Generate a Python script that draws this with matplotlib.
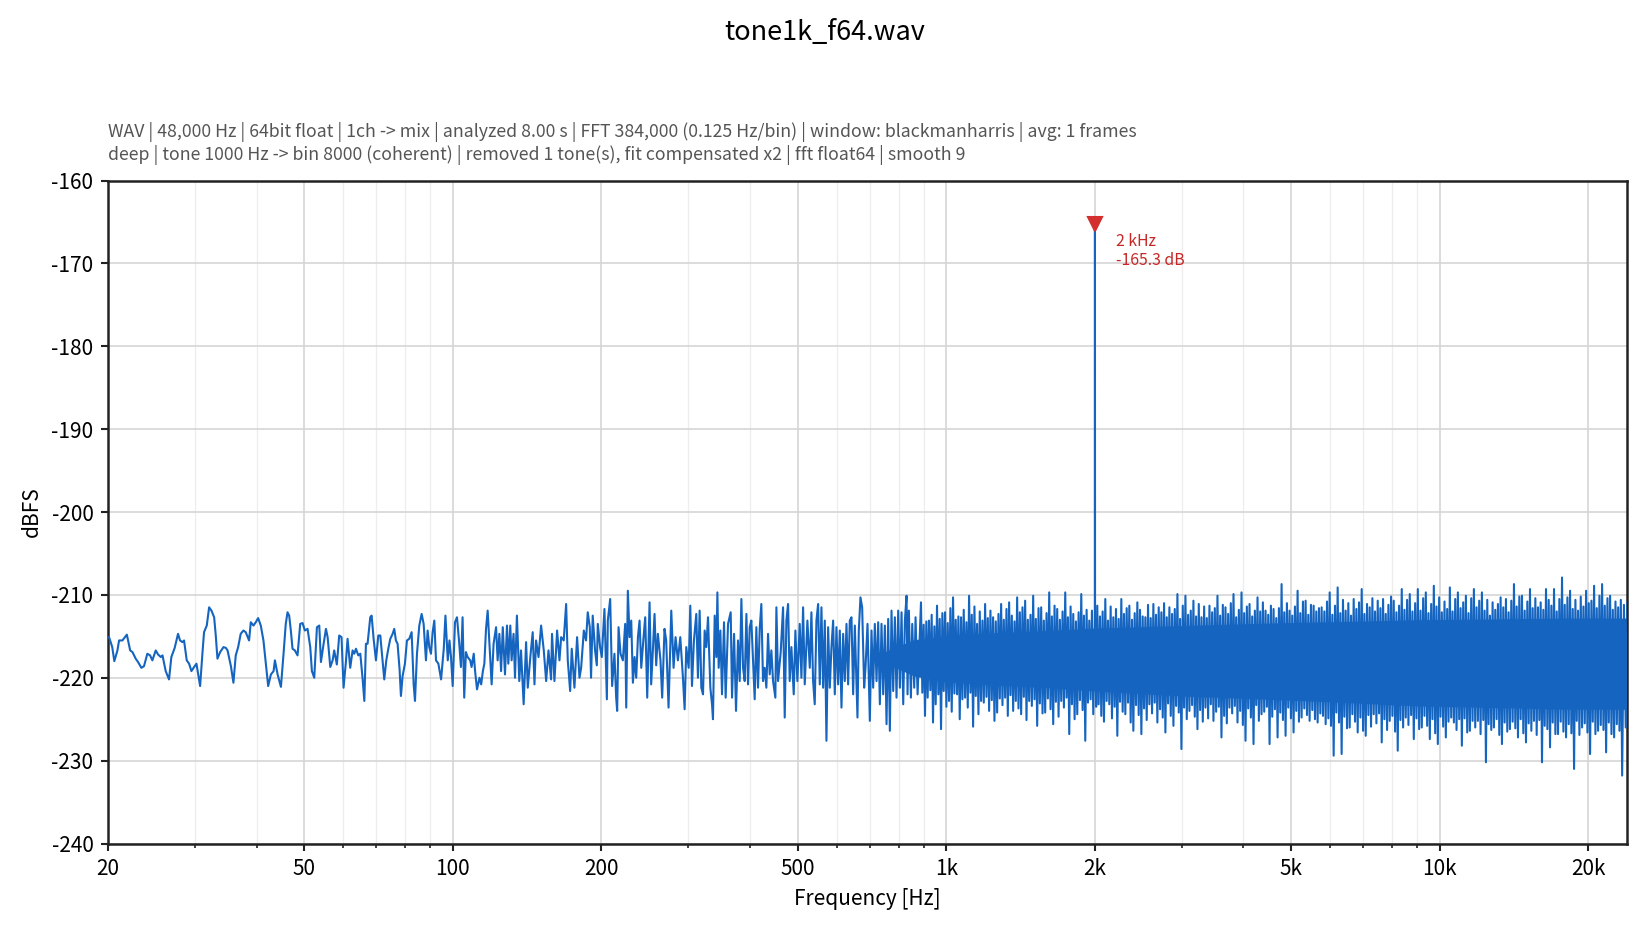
import numpy as np
import matplotlib
matplotlib.use("Agg")
import matplotlib.pyplot as plt
from matplotlib.ticker import FixedLocator, FixedFormatter, LogLocator, NullFormatter

plt.rcParams['font.family'] = ['Noto Sans CJK JP', 'DejaVu Sans']
plt.rcParams['axes.unicode_minus'] = False

TITLE = "tone1k_f64.wav"
INFO_1 = ("WAV | 48,000 Hz | 64bit float | 1ch -> mix | analyzed 8.00 s | FFT 384,000 (0.125 Hz/bin) "
          "| window: blackmanharris | avg: 1 frames")
INFO_2 = ("deep | tone 1000 Hz -> bin 8000 (coherent) | removed 1 tone(s), fit compensated x2 "
          "| fft float64 | smooth 9")

# ---- spectrum, (Hz, dBFS) ----
# 20..137 Hz, individual wiggles
low_band = [
    (20.1, -215.1), (20.4, -216.3), (20.6, -218.0), (20.9, -216.7), (21.06, -215.5), (21.39, -215.5),
    (21.84, -214.8), (22.18, -216.7), (22.42, -216.9), (22.76, -217.7), (23.01, -218.1), (23.37, -218.8),
    (23.66, -218.6), (24.03, -217.1), (24.34, -217.3), (24.60, -217.9), (24.99, -216.7), (25.27, -217.2),
    (25.59, -217.5), (25.79, -217.3), (26.18, -219.2), (26.59, -220.2), (26.88, -217.5), (27.30, -216.4),
    (27.73, -214.7), (27.99, -215.5), (28.30, -215.7), (28.52, -215.5), (28.88, -217.9), (29.20, -218.3),
    (29.52, -219.2), (29.89, -218.7), (30.22, -218.3), (30.74, -221.0), (31.07, -217.1), (31.31, -214.5),
    (31.71, -213.7), (32.06, -211.5), (32.41, -211.9), (32.82, -212.7), (33.07, -214.9), (33.33, -217.7),
    (33.75, -216.9), (34.29, -216.3), (34.67, -216.4), (34.94, -216.7), (35.49, -218.6), (35.91, -220.6),
    (36.30, -217.3), (36.71, -216.3), (37.15, -214.7), (37.62, -214.3), (38.03, -214.5), (38.63, -215.5),
    (38.94, -213.3), (39.43, -213.7), (39.86, -213.3), (40.30, -212.8), (40.80, -213.7), (41.31, -215.5),
    (41.77, -218.3), (42.23, -221.0), (42.77, -219.6), (43.31, -219.2), (43.58, -217.9), (44.13, -219.6),
    (44.82, -221.1), (45.37, -217.1), (45.84, -213.5), (46.22, -212.1), (46.58, -212.5), (46.94, -214.3),
    (47.31, -216.5), (47.83, -216.7), (48.43, -217.3), (49.04, -213.5), (49.58, -213.4), (50.12, -214.3),
    (50.75, -214.1), (51.39, -216.3), (51.79, -219.2), (52.36, -220.0), (53.02, -213.9), (53.60, -213.7),
    (54.02, -218.1), (54.70, -215.9), (55.30, -214.1), (55.73, -215.1), (56.43, -218.7), (57.05, -217.9),
    (57.47, -216.7), (58.18, -218.4), (58.83, -214.9), (59.47, -215.1), (60.03, -221.2), (60.69, -218.1),
    (61.17, -215.3), (61.93, -218.8), (62.62, -216.7), (63.11, -217.1), (63.61, -216.5), (64.30, -217.3),
    (64.91, -217.1), (65.63, -220.2), (66.14, -222.8), (66.64, -215.9), (67.15, -215.9), (68.00, -212.7),
    (68.43, -212.5), (69.07, -215.3), (69.83, -217.9), (70.60, -214.9), (71.26, -214.9), (72.03, -217.9),
    (72.59, -220.2), (73.28, -217.9), (73.97, -216.5), (74.66, -215.3), (75.48, -214.7), (76.05, -214.1),
    (76.65, -215.5), (77.24, -215.9), (77.97, -219.0), (78.46, -222.2), (79.07, -219.8), (79.94, -218.3),
    (80.69, -215.5), (81.58, -215.3), (82.48, -214.5), (83.26, -220.8), (83.78, -222.8), (84.56, -217.1),
    (85.48, -213.7), (86.42, -212.3), (87.23, -213.5), (88.18, -217.9), (88.87, -214.3), (89.56, -216.3),
    (90.26, -217.1), (90.97, -214.5), (91.69, -213.1), (92.41, -217.9), (93.44, -218.3), (94.63, -220.2),
    (95.82, -216.5), (96.57, -212.5), (97.63, -217.9), (98.40, -215.5), (99.11, -217.5), (99.89, -221.0),
    (100.97, -213.3), (101.92, -212.7), (103.01, -215.9), (103.80, -218.7), (104.61, -212.7), (105.42, -222.4),
    (106.24, -216.9), (107.1, -217.5), (108.4, -217.9), (109.1, -218.7), (110.2, -217.1), (110.9, -219.2),
    (111.9, -221.4), (113.2, -220.0), (114.1, -220.8), (115.0, -219.2), (115.8, -218.3), (116.7, -214.1),
    (117.6, -211.9), (118.5, -215.5), (119.8, -220.8), (120.9, -215.9), (122.3, -213.9), (123.2, -217.9),
    (124.2, -214.7), (125.2, -219.2), (126.2, -213.9), (127.5, -219.6), (128.7, -213.7), (129.5, -218.3),
    (130.7, -213.7), (131.5, -217.9), (132.7, -214.7), (133.6, -220.0), (134.8, -212.5), (136.3, -220.4),
]

# 137..880 Hz, getting denser
mid_band = [
    (137.4, -216.7), (139.1, -223.2), (140.7, -215.7), (141.8, -221.2), (143.5, -217.5), (145.1, -214.5),
    (146.3, -220.8), (147.4, -215.5), (149.1, -217.5), (150.9, -213.7), (152.8, -216.7), (154.5, -220.4),
    (156.2, -216.7), (158.1, -220.2), (158.8, -214.7), (160.6, -220.4), (162.6, -214.3), (164.4, -217.9),
    (165.7, -215.1), (167.7, -215.5), (169.6, -211.1), (170.9, -217.9), (172.8, -221.6), (174.1, -216.5),
    (176.3, -221.2), (178.5, -215.1), (180.5, -220.0), (181.9, -218.8), (184.2, -214.3), (186.1, -215.5),
    (187.6, -212.1), (189.4, -213.9), (190.5, -220.0), (192.0, -212.5), (194.1, -216.7), (195.7, -218.5),
    (196.6, -213.5), (198.7, -216.3), (200.3, -217.5), (202.8, -211.7), (205.1, -222.6), (206.0, -213.1),
    (208.3, -210.5), (210.2, -221.0), (212.5, -217.1), (214.2, -222.4), (215.2, -224.0), (216.6, -213.9),
    (218.6, -217.1), (221.0, -217.9), (223.4, -213.5), (224.5, -223.6), (226.2, -209.5), (228.0, -215.1),
    (229.8, -213.1), (231.6, -220.6), (233.4, -217.5), (235.2, -220.0), (237.1, -215.1), (238.9, -213.1),
    (240.8, -218.8), (243.4, -215.1), (245.3, -212.7), (247.6, -222.4), (250.3, -210.9), (252.2, -220.8),
    (254.2, -216.7), (256.2, -212.3), (258.2, -218.5), (260.2, -214.7), (263.4, -217.9), (265.5, -222.4),
    (268.4, -214.1), (270.5, -215.5), (273.5, -223.6), (277.0, -211.9), (280.0, -218.8), (282.6, -215.1),
    (285.7, -217.9), (288.9, -215.1), (292.5, -220.0), (294.8, -223.8), (297.1, -216.3), (300.4, -218.8),
    (302.7, -211.3), (305.1, -221.0), (307.9, -215.5), (311.3, -212.3), (313.7, -220.0), (316.2, -211.9),
    (318.7, -221.2), (321.2, -222.0), (323.7, -214.3), (326.2, -216.3), (328.8, -212.7), (332.4, -221.2),
    (335.0, -223.2), (336.5, -225.0), (339.2, -212.5), (341.8, -217.5), (343.5, -209.7), (345.6, -218.8),
    (348.3, -214.3), (351.0, -222.0), (354.3, -213.3), (357.0, -222.4), (361.0, -213.5), (365.5, -212.1),
    (367.8, -222.4), (371.3, -214.7), (374.7, -224.0), (378.2, -215.5), (381.2, -220.4), (384.2, -210.5),
    (387.2, -218.8), (390.2, -220.4), (393.3, -212.3), (396.3, -220.8), (399.4, -213.9), (402.5, -213.1),
    (406.3, -218.8), (408.8, -222.6), (412.0, -213.9), (415.2, -221.2), (418.5, -214.1), (421.7, -211.1),
    (425.0, -220.4), (428.3, -218.8), (431.7, -221.2), (435.1, -214.7), (438.5, -219.6), (441.9, -216.7),
    (445.4, -220.4), (450.2, -222.4), (452.4, -211.5), (455.9, -220.4), (461.6, -216.9), (466.7, -211.5),
    (470.3, -224.8), (474.0, -213.1), (477.7, -211.1), (481.4, -220.4), (485.2, -216.3), (490.5, -222.0),
    (494.3, -214.3), (498.9, -220.4), (504.4, -213.5), (508.4, -220.0), (512.4, -211.5), (516.4, -220.8),
    (522.8, -213.1), (528.6, -218.8), (532.7, -212.1), (536.9, -220.4), (541.0, -223.2), (545.3, -213.1),
    (549.6, -211.1), (553.9, -220.8), (558.2, -211.5), (562.6, -221.2), (567.0, -213.1), (571.4, -227.6),
    (575.9, -213.9), (580.4, -221.2), (584.9, -216.3), (589.5, -213.1), (594.1, -222.0), (598.7, -213.9),
    (603.4, -220.8), (608.1, -214.3), (612.9, -223.6), (617.7, -214.7), (622.5, -220.4), (627.4, -213.5),
    (632.2, -220.8), (637.2, -213.1), (642.2, -212.7), (647.2, -222.0), (652.3, -213.7), (660.4, -224.8),
    (664.5, -214.3), (669.7, -210.3), (675.0, -211.5), (681.3, -221.2), (685.6, -218.8), (692.1, -213.5),
    (699.6, -225.2), (705.1, -214.3), (710.6, -221.2), (716.1, -213.5), (721.8, -220.4), (727.4, -213.3),
    (733.1, -223.2), (738.8, -213.5), (744.6, -222.0), (750.4, -213.7), (756.3, -225.6), (762.2, -212.9),
    (768.1, -226.4), (774.1, -211.9), (780.2, -221.6), (786.3, -212.7), (792.4, -222.4), (798.6, -211.9),
    (804.9, -221.2), (811.2, -212.1), (817.5, -223.2), (823.9, -213.1), (830.3, -210.1), (834.2, -222.0),
    (839.4, -211.9), (847.4, -222.4), (852.7, -213.5), (860.6, -221.2), (866.0, -212.7), (874.2, -222.0),
]

# 0.9..5.7 kHz, dense band (spike tips), tone residue at 2 kHz
upper_band = [
    (888.2, -210.9), (893.8, -221.8), (899.4, -213.6), (905.0, -224.6), (910.6, -213.2), (916.3, -222.4),
    (921.9, -213.1), (927.8, -221.5), (933.6, -212.4), (939.5, -225.4), (945.4, -213.8), (951.3, -223.2),
    (957.2, -211.3), (963.2, -222.0), (969.3, -212.9), (975.3, -226.2), (981.4, -212.2), (987.6, -221.6),
    (993.7, -212.1), (1000.0, -223.5), (1006.2, -213.4), (1012.5, -222.8), (1018.8, -211.6), (1025.2, -224.1),
    (1031.5, -210.3), (1038.0, -221.9), (1044.5, -213.0), (1051.0, -222.0), (1057.6, -212.6), (1064.2, -225.0),
    (1070.8, -212.7), (1077.6, -222.6), (1084.3, -211.8), (1091.1, -222.4), (1098.0, -213.3), (1104.8, -223.6),
    (1111.7, -210.1), (1118.7, -221.8), (1125.7, -212.4), (1132.7, -225.9), (1139.8, -211.4), (1146.9, -222.2),
    (1154.0, -213.5), (1161.3, -224.4), (1168.5, -212.0), (1175.8, -222.8), (1183.2, -213.1), (1190.6, -223.0),
    (1198.0, -211.1), (1205.5, -222.3), (1213.1, -212.8), (1220.6, -224.0), (1228.2, -211.9), (1235.9, -222.7),
    (1243.5, -212.7), (1251.4, -225.2), (1259.2, -213.2), (1267.1, -224.2), (1275.1, -212.3), (1283.0, -222.5),
    (1291.0, -211.1), (1299.1, -223.3), (1307.2, -213.0), (1315.3, -222.4), (1323.6, -211.7), (1331.8, -224.6),
    (1340.1, -210.9), (1348.6, -222.1), (1357.0, -212.5), (1365.5, -224.0), (1374.1, -213.2), (1382.6, -222.8),
    (1391.2, -210.3), (1399.9, -223.7), (1408.7, -212.1), (1417.4, -224.4), (1426.3, -211.5), (1435.2, -222.3),
    (1444.1, -210.7), (1453.2, -225.1), (1462.3, -213.0), (1471.4, -222.8), (1480.7, -212.4), (1489.9, -223.4),
    (1499.2, -210.1), (1508.6, -222.6), (1518.1, -212.9), (1527.5, -225.8), (1537.1, -211.6), (1546.7, -223.1),
    (1556.3, -211.5), (1566.1, -224.3), (1575.8, -213.1), (1585.6, -224.2), (1595.6, -212.2), (1605.7, -222.5),
    (1615.7, -209.7), (1625.8, -223.8), (1636.0, -212.6), (1646.1, -225.6), (1656.4, -211.3), (1666.8, -222.9),
    (1677.1, -211.7), (1687.7, -224.7), (1698.2, -213.0), (1708.8, -222.8), (1719.6, -212.0), (1730.3, -223.6),
    (1741.1, -209.7), (1752.1, -222.4), (1763.0, -212.7), (1774.0, -226.8), (1785.2, -211.4), (1796.4, -223.2),
    (1807.6, -212.3), (1818.9, -225.0), (1830.3, -213.2), (1841.6, -224.4), (1853.2, -212.1), (1864.8, -222.7),
    (1876.4, -209.9), (1888.2, -223.9), (1899.9, -212.5), (1911.7, -227.6), (1923.7, -211.8), (1935.8, -223.0),
    (1947.8, -213.1), (1960.0, -222.6), (1972.2, -211.9), (1984.4, -224.4),
    (1999.0, -213.0), (2000.0, -165.3), (2001.0, -214.0), (2011.5, -223.5),
    (2022.0, -211.3), (2034.7, -223.2), (2047.5, -212.6), (2060.2, -224.6), (2073.1, -212.0), (2086.1, -225.3),
    (2099.0, -210.5), (2112.2, -222.8), (2125.4, -213.1), (2138.6, -223.2), (2152.1, -211.4), (2165.5, -224.9),
    (2179.0, -212.7), (2192.7, -223.5), (2206.4, -211.7), (2220.1, -227.0), (2234.1, -212.9), (2248.0, -222.9),
    (2262.0, -210.5), (2276.2, -224.1), (2290.4, -212.3), (2304.6, -224.4), (2319.1, -211.6), (2333.6, -223.0),
    (2348.1, -211.3), (2362.9, -225.4), (2377.7, -213.0), (2392.5, -226.4), (2407.5, -212.2), (2422.6, -223.3),
    (2437.6, -210.9), (2452.9, -224.5), (2468.3, -211.8), (2483.6, -226.8), (2499.2, -212.6), (2514.8, -223.7),
    (2530.4, -212.7), (2546.4, -225.1), (2562.3, -211.2), (2578.3, -223.2), (2594.5, -212.8), (2610.6, -224.3),
    (2626.8, -211.1), (2643.3, -223.0), (2659.8, -212.4), (2676.3, -225.4), (2693.1, -211.5), (2710.0, -223.8),
    (2726.8, -212.1), (2744.0, -224.8), (2761.2, -211.0), (2778.4, -226.6), (2795.9, -212.7), (2813.4, -223.1),
    (2830.9, -211.5), (2848.7, -224.6), (2866.6, -212.3), (2884.4, -225.8), (2902.5, -211.7), (2920.6, -223.4),
    (2938.7, -209.9), (2957.2, -224.2), (2975.7, -212.9), (2994.2, -228.6), (3013.0, -211.3), (3031.8, -223.6),
    (3050.6, -210.1), (3069.8, -225.0), (3088.9, -212.4), (3108.1, -224.0), (3127.6, -211.9), (3147.1, -223.3),
    (3166.6, -210.7), (3186.6, -224.7), (3206.5, -212.6), (3226.5, -226.2), (3246.8, -211.1), (3267.2, -223.9),
    (3287.5, -212.7), (3308.1, -225.3), (3328.8, -211.4), (3349.4, -223.6), (3370.5, -212.8), (3391.5, -224.9),
    (3412.6, -211.3), (3434.1, -223.2), (3455.6, -212.1), (3477.1, -225.2), (3498.9, -211.6), (3520.7, -224.1),
    (3542.5, -210.1), (3564.8, -223.5), (3587.1, -212.5), (3609.4, -227.2), (3632.1, -211.2), (3654.7, -224.6),
    (3677.4, -211.5), (3700.5, -225.5), (3723.6, -212.3), (3746.7, -223.6), (3770.4, -211.0), (3794.0, -224.3),
    (3817.7, -209.9), (3841.7, -223.4), (3865.6, -212.7), (3889.6, -225.4), (3914.1, -211.8), (3938.6, -224.0),
    (3963.1, -209.7), (3988.0, -225.7), (4012.8, -212.2), (4037.7, -227.6), (4063.2, -211.4), (4088.7, -223.7),
    (4114.2, -211.1), (4140.0, -224.8), (4165.7, -212.6), (4191.5, -228.0), (4217.8, -211.9), (4244.2, -223.3),
    (4270.5, -210.3), (4297.4, -225.2), (4324.3, -212.0), (4351.2, -224.4), (4378.6, -210.9), (4406.1, -224.1),
    (4433.5, -211.9), (4461.4, -223.5), (4489.4, -212.4), (4517.3, -228.0), (4545.8, -211.3), (4574.2, -224.7),
    (4602.7, -211.7), (4631.6, -223.8), (4660.5, -212.8), (4689.4, -227.2), (4718.9, -211.6), (4748.5, -224.2),
    (4778.0, -208.7), (4807.9, -225.1), (4837.9, -212.1), (4867.8, -227.0), (4898.4, -211.0), (4929.0, -223.6),
    (4959.6, -211.9), (4990.7, -224.9), (5021.8, -212.5), (5052.9, -226.6), (5084.8, -211.4), (5116.7, -224.0),
    (5148.6, -209.5), (5181.0, -225.3), (5213.5, -212.2), (5245.9, -224.8), (5278.8, -210.8), (5311.8, -223.7),
    (5344.7, -210.7), (5379.1, -224.5), (5412.1, -212.4), (5445.5, -225.2), (5479.8, -211.2), (5514.1, -223.9),
    (5548.4, -211.3), (5583.2, -225.0), (5618.0, -212.0), (5652.9, -225.4), (5688.6, -211.6), (5724.3, -224.3),
]

# 5.7..24 kHz
top_band = [
    (5760, -211.5), (5796, -224.6), (5833, -212.0), (5869, -225.6), (5906, -210.8), (5943, -224.9),
    (5980, -209.7), (6017, -225.8), (6055, -212.4), (6092, -229.4), (6130, -211.3), (6169, -224.2),
    (6207, -209.1), (6246, -225.4), (6284, -212.2), (6323, -229.2), (6363, -210.6), (6403, -224.7),
    (6443, -211.9), (6484, -226.1), (6524, -211.0), (6565, -226.0), (6606, -212.5), (6648, -224.4),
    (6689, -210.5), (6731, -225.3), (6773, -211.7), (6815, -226.6), (6858, -210.9), (6901, -224.8),
    (6944, -209.3), (6988, -226.4), (7031, -212.3), (7075, -227.0), (7119, -211.1), (7164, -224.5),
    (7208, -211.5), (7253, -225.9), (7299, -210.4), (7344, -224.4), (7390, -212.0), (7437, -225.5),
    (7483, -210.7), (7530, -224.3), (7577, -211.6), (7624, -227.8), (7672, -210.5), (7720, -225.0),
    (7768, -212.3), (7817, -226.3), (7865, -211.2), (7914, -225.2), (7964, -210.2), (8013, -224.6),
    (8063, -210.7), (8114, -226.5), (8164, -212.1), (8215, -228.8), (8267, -211.3), (8319, -225.1),
    (8371, -209.3), (8424, -226.0), (8476, -211.8), (8529, -224.8), (8583, -210.6), (8636, -225.7),
    (8690, -209.9), (8745, -224.5), (8799, -212.0), (8854, -227.4), (8910, -211.0), (8966, -224.9),
    (9022, -209.3), (9079, -226.2), (9135, -211.9), (9192, -226.0), (9250, -210.4), (9307, -224.6),
    (9365, -209.7), (9424, -225.8), (9483, -212.2), (9542, -227.4), (9602, -211.1), (9662, -225.0),
    (9722, -208.9), (9783, -226.7), (9844, -211.4), (9905, -228.0), (9967, -210.3), (10030, -224.7),
    (10092, -212.1), (10155, -225.9), (10219, -210.8), (10282, -227.2), (10347, -211.7), (10412, -225.3),
    (10477, -209.1), (10543, -224.8), (10609, -212.0), (10675, -225.4), (10742, -210.5), (10809, -226.3),
    (10876, -209.7), (10944, -225.0), (11013, -211.6), (11081, -228.2), (11151, -210.9), (11221, -224.9),
    (11291, -210.1), (11362, -226.6), (11432, -212.2), (11503, -226.4), (11575, -210.4), (11648, -225.2),
    (11720, -209.3), (11794, -226.0), (11867, -211.5), (11941, -225.2), (12016, -210.7), (12092, -226.8),
    (12167, -209.7), (12244, -225.1), (12321, -211.9), (12398, -230.2), (12476, -210.6), (12553, -225.6),
    (12631, -212.5), (12710, -226.3), (12790, -210.9), (12869, -226.0), (12950, -211.8), (13031, -225.0),
    (13112, -211.1), (13195, -226.9), (13277, -210.3), (13360, -228.0), (13444, -211.5), (13528, -225.4),
    (13612, -210.5), (13697, -226.5), (13783, -212.1), (13868, -226.2), (13956, -210.7), (14044, -225.3),
    (14131, -208.7), (14220, -226.1), (14309, -211.4), (14398, -227.2), (14488, -210.2), (14579, -225.0),
    (14669, -210.1), (14761, -226.7), (14854, -211.9), (14946, -227.8), (15040, -210.8), (15134, -225.5),
    (15228, -209.3), (15324, -226.4), (15419, -211.6), (15515, -225.2), (15613, -210.4), (15710, -226.9),
    (15808, -211.5), (15907, -225.1), (16006, -210.9), (16105, -230.2), (16206, -211.8), (16308, -225.8),
    (16409, -209.3), (16513, -226.2), (16616, -210.6), (16720, -228.4), (16825, -211.3), (16930, -225.4),
    (17035, -209.3), (17142, -226.8), (17249, -212.0), (17356, -226.8), (17465, -210.5), (17574, -225.3),
    (17683, -207.9), (17795, -226.5), (17907, -211.2), (18019, -227.2), (18132, -210.3), (18245, -225.6),
    (18358, -209.5), (18473, -226.7), (18589, -211.7), (18704, -231.0), (18822, -210.6), (18939, -225.2),
    (19057, -211.9), (19177, -226.9), (19297, -210.2), (19417, -226.0), (19539, -211.4), (19662, -225.5),
    (19784, -209.5), (19908, -226.6), (20032, -211.0), (20156, -229.2), (20283, -210.7), (20409, -225.3),
    (20536, -208.9), (20665, -226.8), (20794, -211.6), (20923, -226.4), (21055, -210.1), (21187, -225.7),
    (21319, -208.7), (21453, -226.3), (21587, -211.3), (21721, -229.0), (21857, -210.4), (21994, -225.4),
    (22130, -210.1), (22270, -226.8), (22410, -211.8), (22549, -227.2), (22691, -210.8), (22834, -225.6),
    (22976, -211.5), (23120, -226.4), (23264, -210.6), (23408, -231.8), (23605, -211.2), (23803, -226.0),
    (24000, -210.9),
]

# solid core of the dense noise band (Hz, upper dB, lower dB)
core_f = [720, 860, 1000, 1200, 1600, 2000, 3000, 4500, 6500, 9000, 13000, 18000, 24000]
core_hi = [-217.3, -215.4, -215.0, -214.6, -214.3, -214.0, -213.7, -213.4, -213.2, -213.0, -212.9, -212.8, -212.8]
core_lo = [-217.7, -219.8, -220.5, -220.8, -221.2, -221.6, -222.2, -222.6, -223.0, -223.4, -223.6, -223.8, -223.8]

peak_f = 2000
peak_db = -165.3
peak_label = "2 kHz\n-165.3 dB"

freq_ticks = [20, 50, 100, 200, 500, 1000, 2000, 5000, 10000, 20000]
freq_labels = ["20", "50", "100", "200", "500", "1k", "2k", "5k", "10k", "20k"]

LINE_C = "#1565c0"

spec = np.array(low_band + mid_band + upper_band + top_band)
f = spec[:, 0]
db = spec[:, 1]

fig = plt.figure(figsize=(11, 6.2), dpi=150)
ax = fig.add_axes([0.06545, 0.0930, 0.92091, 0.71291])

ax.fill_between(core_f, core_lo, core_hi, color=LINE_C, lw=0, zorder=2)
ax.plot(f, db, color=LINE_C, lw=1.0, zorder=3)
ax.plot([peak_f], [peak_db], marker="v", ms=6.5, color="#d32f2f", ls="none", zorder=5)
ax.annotate(peak_label, xy=(peak_f, peak_db), xytext=(10, -4), textcoords="offset points",
            ha="left", va="top", fontsize=7.6, color="#c62828", linespacing=1.2)

ax.set_xscale("log")
ax.set_xlim(20, 24000)
ax.set_ylim(-240, -160)
ax.xaxis.set_major_locator(FixedLocator(freq_ticks))
ax.xaxis.set_major_formatter(FixedFormatter(freq_labels))
ax.xaxis.set_minor_locator(LogLocator(base=10, subs=(3, 4, 6, 7, 8, 9)))
ax.xaxis.set_minor_formatter(NullFormatter())
ax.set_yticks(np.arange(-240, -159, 10))

ax.grid(which="major", color="#d5d5d5", lw=0.8)
ax.grid(which="minor", axis="x", color="#ededed", lw=0.6)
ax.set_axisbelow(True)
for s in ax.spines.values():
    s.set_linewidth(1.2)
    s.set_color("#222222")
ax.tick_params(which="major", length=3.5, width=1.0, labelsize=10, color="#222222")
ax.tick_params(which="minor", length=2, width=0.8, color="#222222")

ax.set_xlabel("Frequency [Hz]", fontsize=10)
ax.set_ylabel("dBFS", fontsize=10)

fig.text(0.5, 0.9649, TITLE, ha="center", va="center", fontsize=13)
fig.text(0.06545, 0.8586, INFO_1, ha="left", va="center", fontsize=8.5, color="#555555")
fig.text(0.06545, 0.8336, INFO_2, ha="left", va="center", fontsize=8.5, color="#555555")

fig.savefig("out.png", dpi=150)
